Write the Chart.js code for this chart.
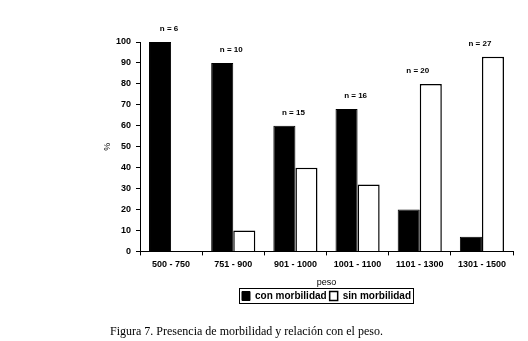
<!DOCTYPE html>
<html>
<head>
<meta charset="utf-8">
<script src="https://cdn.jsdelivr.net/npm/chart.js@4"></script>
<style>
  html, body { margin: 0; padding: 0; background: #fff; }
  #wrap { position: relative; width: 528px; height: 341px; }
  #caption {
    position: absolute; left: 110px; top: 324px;
    font-family: "Liberation Serif", "DejaVu Serif", serif; font-size: 12px; color: #000;
    white-space: nowrap;
  }
</style>
</head>
<body>
<div id="wrap">
  <canvas id="chart" width="528" height="341"></canvas>
  <div id="caption">Figura 7. Presencia de morbilidad y relación con el peso.</div>
</div>
<script>
const categories = ["500 - 750", "751 - 900", "901 - 1000", "1001 - 1100", "1101 - 1300", "1301 - 1500"];
const conMorbilidad = [100, 90, 60, 68, 20, 7];
const sinMorbilidad = [0, 10, 40, 32, 80, 93];
const nValues = [6, 10, 15, 16, 20, 27];

const font = "'Liberation Sans', Arial, sans-serif";

// "n = X" above each group
const nLabels = {
    id: "nLabels",
    afterDatasetsDraw(chart) {
        const ctx = chart.ctx;
        const xs = chart.scales.x, ys = chart.scales.y;
        ctx.save();
        ctx.font = "bold 8px " + font;
        ctx.fillStyle = "#000";
        ctx.textAlign = "center";
        ctx.textBaseline = "middle";
        nValues.forEach((n, i) => {
            const top = Math.max(conMorbilidad[i], sinMorbilidad[i]);
            ctx.fillText("n = " + n, xs.getPixelForValue(i) - 2, ys.getPixelForValue(top) - 13);
        });
        ctx.restore();
    }
};

// legend centred under the plot area, with a border round it
const legendBox = {
    id: "legendBox",
    afterLayout(chart) {
        const lg = chart.legend, area = chart.chartArea;
        const dx = (area.left + area.right) / 2 - (lg.left + lg.right) / 2;
        lg.left += dx;
        lg.right += dx;
        if (lg.legendHitBoxes) lg.legendHitBoxes.forEach(h => { h.left += dx; });
    },
    afterDraw(chart) {
        const boxes = chart.legend.legendHitBoxes;
        if (!boxes || !boxes.length) return;
        let l = Infinity, r = -Infinity, t = Infinity, b = -Infinity;
        boxes.forEach(h => {
            l = Math.min(l, h.left); r = Math.max(r, h.left + h.width);
            t = Math.min(t, h.top); b = Math.max(b, h.top + h.height);
        });
        const ctx = chart.ctx;
        ctx.save();
        ctx.strokeStyle = "#000";
        ctx.lineWidth = 1;
        ctx.strokeRect(Math.round(l - 3) + 0.5, Math.round(t - 3) + 0.5, Math.round(r - l + 5), Math.round(b - t + 5));
        ctx.restore();
    }
};

const ctx = document.getElementById("chart").getContext("2d");
new Chart(ctx, {
    type: "bar",
    data: {
        labels: categories,
        datasets: [{
            label: "con morbilidad",
            data: conMorbilidad,
            backgroundColor: "#000",
            borderColor: "#000",
            borderWidth: 1
        }, {
            label: "sin morbilidad",
            data: sinMorbilidad,
            backgroundColor: "#fff",
            borderColor: "#000",
            borderWidth: 1.5
        }]
    },
    options: {
        responsive: false,
        animation: false,
        layout: { padding: { left: 102, right: 15, top: 42, bottom: 30 } },
        datasets: { bar: { categoryPercentage: 0.71, barPercentage: 1 } },
        plugins: {
            tooltip: { enabled: false },
            legend: {
                position: "bottom",
                labels: {
                    font: { family: font, size: 10, weight: "bold" },
                    color: "#000",
                    boxWidth: 8, boxHeight: 9, padding: 3
                }
            }
        },
        scales: {
            x: {
                grid: { drawOnChartArea: false, drawTicks: true, tickLength: 4, color: "#000" },
                border: { display: true, color: "#000", width: 1 },
                ticks: { font: { family: font, size: 9, weight: "bold" }, color: "#000", maxRotation: 0, padding: 4 },
                title: { display: true, text: "peso", font: { family: font, size: 9 }, color: "#000", padding: { top: 3, bottom: 0 } }
            },
            y: {
                min: 0, max: 100,
                afterFit(scale) { scale.width = 38; },
                grid: { drawOnChartArea: false, drawTicks: true, tickLength: 4, color: "#000" },
                border: { display: true, color: "#000", width: 1 },
                ticks: { stepSize: 10, font: { family: font, size: 9, weight: "bold" }, color: "#000", padding: 5 },
                title: { display: true, text: "%", font: { family: font, size: 9 }, color: "#000", padding: 0 }
            }
        }
    },
    plugins: [nLabels, legendBox]
});
</script>
</body>
</html>
